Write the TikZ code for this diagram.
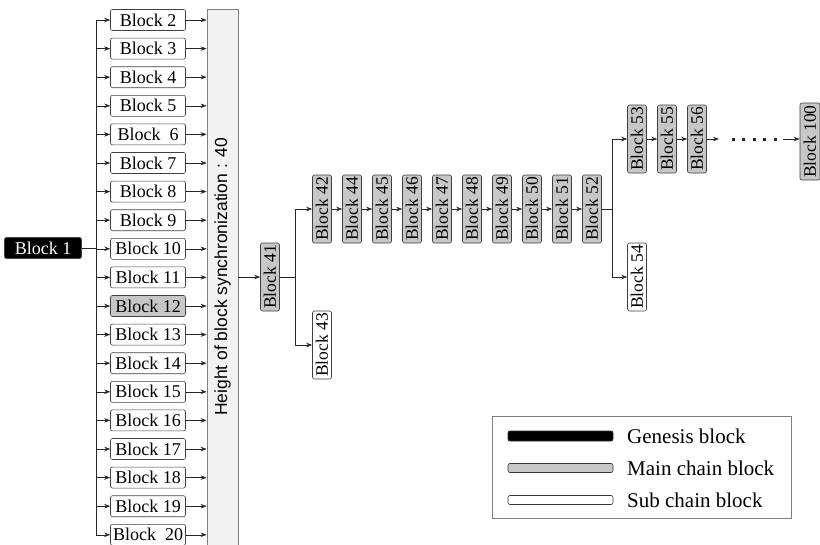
\documentclass[tikz,border=0pt]{standalone}
\usepackage{fontspec}
\setmainfont{Liberation Serif}
\newfontfamily\barfont{Liberation Sans}
\usetikzlibrary{arrows.meta}
\begin{document}
\begin{tikzpicture}[x=1pt,y=-1pt,
  blk/.style={draw=black!75, line width=0.6pt, rounded corners=2pt, inner sep=0pt, font=\fontsize{18}{18}\selectfont},
  hblk/.style={blk, minimum width=75, minimum height=21},
  vblk/.style={blk, rotate=90, minimum width=68, minimum height=19, font=\fontsize{17.5}{18}\selectfont},
  arr/.style={-{Stealth[length=6pt,width=4.5pt]}, line width=0.6pt, draw=black!85},
  ln/.style={line width=0.6pt, draw=black!85},
  legbar/.style={draw=black!80, line width=0.6pt, rounded corners=2pt, minimum width=105, minimum height=9, inner sep=0pt},
  legtxt/.style={anchor=west, inner sep=0pt, font=\fontsize{21}{21}\selectfont}]
\useasboundingbox (0,0) rectangle (820,544);

% genesis block
\node[blk, fill=black, text=white, minimum width=77, minimum height=21] (b1) at (43,248) {Block 1};

% synchronization bar
\node[draw=black!50, fill=black!5, line width=0.8pt, minimum width=31, minimum height=536, inner sep=0pt] (bar) at (222.5,277) {};
\node[rotate=90, inner sep=0pt, font=\barfont\fontsize{17.5}{18}\selectfont] (barlab) at (bar.center) {Height of block synchronization : 40};

% left blocks
\foreach \k/\lab/\col in {2/{Block 2}/white, 3/{Block 3}/white, 4/{Block 4}/white, 5/{Block 5}/white,
  6/{Block\enspace 6}/white, 7/{Block 7}/white, 8/{Block 8}/white, 9/{Block 9}/white, 10/{Block 10}/white,
  11/{Block 11}/white, 12/{Block 12}/black!22, 13/{Block 13}/white, 14/{Block 14}/white, 15/{Block 15}/white,
  16/{Block 16}/white, 17/{Block 17}/white, 18/{Block 18}/white, 19/{Block 19}/white, 20/{Block\enspace 20}/white}{
  \node[hblk, fill=\col] (b\k) at (148,{20+(\k-2)*28.6}) {\lab};
}

\coordinate (sp) at (96,248);
\draw[ln] (b1) -- (sp);
\draw[ln] (b2 -| sp) -- (b20 -| sp);
\foreach \k in {2,...,20}{
  \draw[arr] (b\k -| sp) -- (b\k.west);
  \draw[arr] (b\k.east) -- (b\k -| bar.west);
}

% main chain
\node[vblk, fill=black!22] (b41) at (270,277) {Block 41};
\draw[arr] (bar.east |- b41) -- (b41);
\coordinate (j1) at (295,277);
\draw[ln] (b41) -- (j1);

\node[vblk, fill=black!22] (b42) at (322,209) {Block 42};
\node[vblk, fill=white] (b43) at (322,345) {Block 43};
\draw[arr] (j1) |- (b42);
\draw[arr] (j1) |- (b43);

\foreach \k/\x in {44/352, 45/382, 46/412, 47/442, 48/472, 49/502, 50/532, 51/562, 52/592}{
  \node[vblk, fill=black!22] (b\k) at (\x,209) {Block \k};
}
\foreach \a/\b in {42/44, 44/45, 45/46, 46/47, 47/48, 48/49, 49/50, 50/51, 51/52}{
  \draw[arr] (b\a) -- (b\b);
}

\coordinate (j2) at (612,209);
\draw[ln] (b52) -- (j2);
\node[vblk, fill=black!22] (b53) at (637,139) {Block 53};
\node[vblk, fill=black!22] (b55) at (667,139) {Block 55};
\node[vblk, fill=black!22] (b56) at (697,139) {Block 56};
\node[vblk, fill=white] (b54) at (637,277) {Block 54};
\draw[arr] (j2) |- (b53);
\draw[arr] (j2) |- (b54);
\draw[arr] (b53) -- (b55);
\draw[arr] (b55) -- (b56);

\coordinate (d1) at (719,139);
\coordinate (d2) at (783,139);
\draw[arr] (b56) -- (d1);
\foreach \x in {733,743.5,754,764.5,775}{
  \fill[black!85] (\x-1.5,137.5) rectangle ++(3,3);
}
\node[vblk, fill=black!22, minimum width=77, minimum height=20] (b100) at (810,141.5) {Block 100};
\draw[arr] (d2) -- (d2 -| b100.north);

% legend
\node[draw=black!50, line width=1pt, minimum width=299, minimum height=102, inner sep=0pt] (leg) at (641.5,467) {};
\node[legbar, fill=black, line width=0.8pt, minimum height=10] (lg1) at (560.5,436) {};
\node[legbar, fill=black!22] (lg2) at (560.5,468) {};
\node[legbar, fill=white] (lg3) at (560.5,500) {};
\node[legtxt] (lt1) at (627,436) {Genesis block};
\node[legtxt] (lt2) at (627,468) {Main chain block};
\node[legtxt] (lt3) at (627,500) {Sub chain block};
\end{tikzpicture}
\end{document}
